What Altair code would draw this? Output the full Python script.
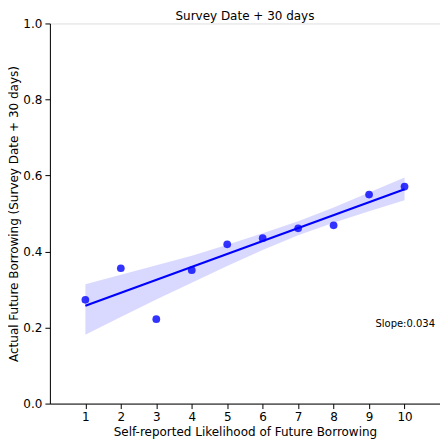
import altair as alt
import pandas as pd

likelihood = [1, 2, 3, 4, 5, 6, 7, 8, 9, 10]
borrowing = [0.273, 0.356, 0.222, 0.351, 0.419, 0.435, 0.461, 0.469, 0.550, 0.571]
band_upper = [0.314, 0.339, 0.364, 0.389, 0.418, 0.448, 0.480, 0.516, 0.555, 0.595]
band_lower = [0.181, 0.228, 0.274, 0.318, 0.362, 0.404, 0.443, 0.476, 0.506, 0.535]
x_ticks = [1, 2, 3, 4, 5, 6, 7, 8, 9, 10]
y_ticks = [0.0, 0.2, 0.4, 0.6, 0.8, 1.0]
slope_label = "Slope:0.034"

df = pd.DataFrame({"x": likelihood, "y": borrowing, "lo": band_lower, "hi": band_upper})
txt = pd.DataFrame({"x": [9.18], "y": [0.21], "t": [slope_label]})

FONT = "DejaVu Sans"

xs = alt.Scale(domain=[0, 11], nice=False, zero=False)
ys = alt.Scale(domain=[0, 1], nice=False)

xaxis = alt.Axis(values=x_ticks, title="Self-reported Likelihood of Future Borrowing",
                 grid=False, labelFontSize=12, titleFontSize=12, titleFontWeight="normal",
                 labelFont=FONT, titleFont=FONT, tickSize=5, labelPadding=3, titlePadding=4,
                 domainColor="black", tickColor="black", labelColor="black", titleColor="black")
yaxis = alt.Axis(values=y_ticks, format=".1f", title="Actual Future Borrowing (Survey Date + 30 days)",
                 grid=False, labelFontSize=12, titleFontSize=12, titleFontWeight="normal",
                 labelFont=FONT, titleFont=FONT, tickSize=5, labelPadding=3, titlePadding=2,
                 domainColor="black", tickColor="black", labelColor="black", titleColor="black")

band = alt.Chart(df).mark_area(color="#0000ff", opacity=0.15).encode(
    x=alt.X("x:Q", scale=xs, axis=xaxis),
    y=alt.Y("lo:Q", scale=ys, axis=yaxis),
    y2="hi:Q",
)

pts = alt.Chart(df).mark_circle(color="#0000ff", opacity=0.8, size=60).encode(
    x=alt.X("x:Q", scale=xs),
    y=alt.Y("y:Q", scale=ys),
)

line = alt.Chart(df).transform_regression("x", "y", extent=[1, 10]).mark_line(
    color="#0000ff", strokeWidth=2.2).encode(
    x=alt.X("x:Q", scale=xs),
    y=alt.Y("y:Q", scale=ys),
)

label = alt.Chart(txt).mark_text(align="left", baseline="middle", fontSize=10, font=FONT,
                                 color="black").encode(
    x=alt.X("x:Q", scale=xs),
    y=alt.Y("y:Q", scale=ys),
    text="t:N",
)

chart = alt.layer(band, line, pts, label).properties(
    width=391, height=381,
    title=alt.TitleParams("Survey Date + 30 days", font=FONT, fontSize=12, fontWeight="normal",
                          color="black", offset=0, baseline="bottom", dy=18),
    autosize=alt.AutoSizeParams(type="none"),
    padding={"left": 42, "top": 15, "right": 0, "bottom": 35},
).configure_view(stroke=None).configure(background="white")

chart.save("out.html", embed_options={"renderer": "svg", "actions": False})
